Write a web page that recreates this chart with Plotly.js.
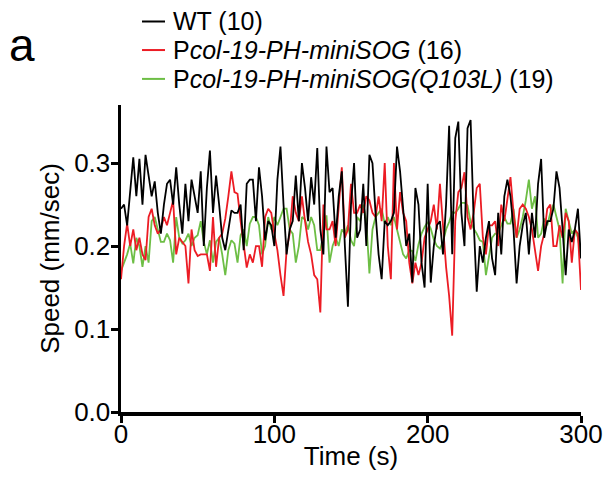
<!DOCTYPE html>
<html>
<head>
<meta charset="utf-8">
<script src="https://cdn.plot.ly/plotly-3.0.1.min.js"></script>
<style>html,body{margin:0;padding:0;background:#fff;}#chart{width:616px;height:483px;}</style>
</head>
<body>
<div id="chart"></div>
<script>
// Time axis: one sample every 2 s, 0..300 s
const timeStart = 0, timeStep = 2, timeEnd = 300;
const timeS = [];
for (let t = timeStart; t <= timeEnd; t += timeStep) timeS.push(t);

// Legend labels (italic part marked with <i>)
const seriesNames = [
  'WT (10)',
  'P<i>col-19-PH-miniSOG</i> (16)',
  'P<i>col-19-PH-miniSOG(Q103L)</i> (19)'
];

// Speed (mm/sec), values
const speedWT = [
  0.245,0.25,0.225,0.27,0.307,0.26,0.305,0.25,0.31,0.285,
  0.26,0.278,0.24,0.215,0.25,0.275,0.28,0.25,0.295,0.25,
  0.215,0.275,0.23,0.28,0.26,0.24,0.29,0.2,0.27,0.315,
  0.24,0.285,0.25,0.21,0.195,0.22,0.243,0.24,0.24,0.25,
  0.195,0.275,0.28,0.28,0.23,0.295,0.26,0.207,0.23,0.225,
  0.2,0.28,0.32,0.25,0.19,0.22,0.23,0.285,0.23,0.3,
  0.27,0.23,0.283,0.25,0.318,0.22,0.19,0.32,0.265,0.27,
  0.21,0.26,0.29,0.2,0.127,0.25,0.3,0.21,0.22,0.275,
  0.2,0.31,0.3,0.24,0.19,0.16,0.23,0.225,0.23,0.24,
  0.32,0.29,0.24,0.2,0.215,0.156,0.27,0.25,0.18,0.15,
  0.275,0.156,0.2,0.225,0.23,0.19,0.25,0.345,0.19,0.33,
  0.35,0.24,0.2,0.342,0.352,0.23,0.145,0.2,0.18,0.21,
  0.23,0.185,0.165,0.24,0.19,0.26,0.28,0.26,0.22,0.155,
  0.2,0.225,0.24,0.19,0.24,0.21,0.275,0.305,0.21,0.23,
  0.23,0.245,0.29,0.27,0.22,0.165,0.22,0.205,0.22,0.245,
  0.185
];
const speedMiniSOG = [
  0.16,0.2,0.227,0.2,0.22,0.195,0.21,0.19,0.183,0.235,
  0.245,0.225,0.215,0.22,0.235,0.225,0.24,0.255,0.19,0.21,
  0.205,0.2,0.155,0.22,0.195,0.188,0.19,0.19,0.19,0.17,
  0.235,0.175,0.21,0.215,0.233,0.26,0.29,0.265,0.263,0.23,
  0.2,0.174,0.19,0.18,0.2,0.2,0.175,0.235,0.245,0.24,
  0.215,0.195,0.165,0.14,0.195,0.215,0.26,0.24,0.23,0.26,
  0.23,0.205,0.19,0.165,0.16,0.12,0.25,0.22,0.22,0.23,
  0.2,0.25,0.295,0.21,0.22,0.275,0.24,0.24,0.25,0.24,
  0.26,0.255,0.24,0.235,0.26,0.23,0.3,0.2,0.16,0.3,
  0.22,0.265,0.24,0.23,0.18,0.155,0.18,0.165,0.18,0.21,
  0.22,0.23,0.25,0.22,0.275,0.22,0.175,0.14,0.092,0.23,
  0.265,0.27,0.289,0.235,0.22,0.24,0.27,0.275,0.21,0.19,
  0.225,0.225,0.23,0.2,0.25,0.23,0.26,0.283,0.24,0.21,
  0.245,0.25,0.245,0.235,0.22,0.195,0.17,0.2,0.215,0.245,
  0.25,0.2,0.2,0.225,0.21,0.24,0.23,0.18,0.22,0.215,
  0.147
];
const speedQ103L = [
  0.17,0.18,0.19,0.203,0.179,0.21,0.2,0.175,0.2,0.18,
  0.23,0.235,0.22,0.205,0.205,0.215,0.207,0.18,0.235,0.21,
  0.203,0.207,0.215,0.2,0.21,0.213,0.23,0.205,0.19,0.207,
  0.18,0.205,0.21,0.19,0.165,0.195,0.207,0.203,0.18,0.213,
  0.22,0.2,0.227,0.235,0.235,0.225,0.19,0.2,0.235,0.22,
  0.235,0.225,0.235,0.245,0.245,0.22,0.215,0.18,0.2,0.235,
  0.232,0.22,0.235,0.225,0.195,0.195,0.215,0.237,0.18,0.2,
  0.21,0.2,0.22,0.215,0.225,0.207,0.2,0.235,0.23,0.25,
  0.23,0.167,0.22,0.235,0.24,0.245,0.227,0.235,0.225,0.235,
  0.22,0.205,0.19,0.185,0.195,0.194,0.182,0.202,0.215,0.223,
  0.229,0.221,0.208,0.2,0.197,0.205,0.22,0.229,0.241,0.24,
  0.245,0.252,0.252,0.249,0.229,0.221,0.215,0.207,0.205,0.165,
  0.189,0.21,0.215,0.215,0.225,0.235,0.227,0.227,0.245,0.21,
  0.22,0.235,0.255,0.28,0.245,0.26,0.21,0.215,0.233,0.225,
  0.24,0.25,0.235,0.22,0.155,0.245,0.23,0.215,0.22,0.21,
  0.187
];

const xTicks = [0, 100, 200, 300];
const yTicks = [0, 0.1, 0.2, 0.3];
const yTickText = ['0.0', '0.1', '0.2', '0.3'];

const colors = ['#000000', '#ec1c24', '#6dbe45'];
const FONT = 'Liberation Sans, Arial, Helvetica, sans-serif';

const allSeries = [speedWT, speedMiniSOG, speedQ103L];
const traces = allSeries.map((ys, i) => ({
  x: timeS, y: ys, type: 'scatter', mode: 'lines',
  name: seriesNames[i], showlegend: false,
  line: {color: colors[i], width: 1.8}
}));
// draw order: green, red, black on top
const plotTraces = [traces[2], traces[1], traces[0]];

// Legend drawn by hand (paper coordinates) so the glyphs match the figure
const legendRowsY = [1.272, 1.179, 1.085];
const shapes = [];
const annotations = [];
for (let i = 0; i < 3; i++) {
  const y = legendRowsY[i];
  shapes.push({type: 'line', xref: 'paper', yref: 'paper',
    x0: 0.0457, x1: 0.0957, y0: y, y1: y,
    line: {color: colors[i], width: 2}});
  annotations.push({text: seriesNames[i], xref: 'paper', yref: 'paper',
    x: 0.108, y: y, xanchor: 'left', yanchor: 'middle',
    showarrow: false, font: {family: FONT, size: 25, color: '#000'}});
}
annotations.push({
  text: 'a', xref: 'paper', yref: 'paper', x: -0.248, y: 1.197,
  xanchor: 'left', yanchor: 'middle', showarrow: false,
  font: {family: FONT, size: 46, color: '#000'}
});

const layout = {
  width: 616, height: 483,
  margin: {l: 121, r: 35, t: 105, b: 71, autoexpand: false},
  paper_bgcolor: '#fff', plot_bgcolor: '#fff',
  font: {family: FONT, color: '#000', size: 26},
  showlegend: false,
  xaxis: {
    range: [0, 300], tickvals: xTicks, ticktext: xTicks.map(String),
    showgrid: false, zeroline: false,
    showline: true, linecolor: '#000', linewidth: 3.5,
    ticks: 'outside', ticklen: 7, tickwidth: 3, tickcolor: '#000',
    ticklabelstandoff: -11,
    tickfont: {family: FONT, size: 26, color: '#000'},
    title: {text: 'Time (s)', font: {family: FONT, size: 26, color: '#000'}, standoff: 0}
  },
  yaxis: {
    range: [0, 0.37], tickvals: yTicks, ticktext: yTickText,
    showgrid: false, zeroline: false,
    showline: true, linecolor: '#000', linewidth: 3.5,
    ticks: 'outside', ticklen: 7, tickwidth: 3, tickcolor: '#000',
    ticklabelstandoff: -5,
    tickfont: {family: FONT, size: 26, color: '#000'},
    title: {text: 'Speed (mm/sec)', font: {family: FONT, size: 26, color: '#000'}, standoff: 8}
  },
  shapes: shapes,
  annotations: annotations
};

Plotly.newPlot('chart', plotTraces, layout, {staticPlot: true, displayModeBar: false});
</script>
</body>
</html>
